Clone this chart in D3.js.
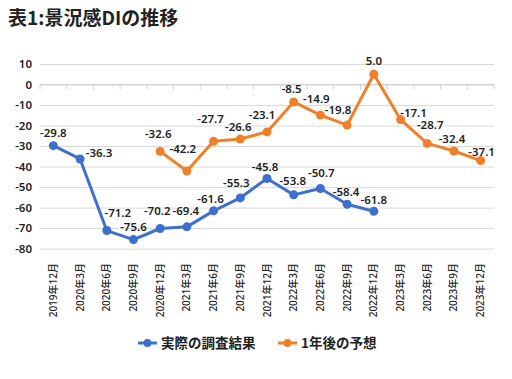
<!DOCTYPE html>
<html><head><meta charset="utf-8">
<script src="https://cdn.jsdelivr.net/npm/d3@7"></script>
<style>
html,body{margin:0;padding:0;background:#fff;}
svg{display:block;font-family:"Noto Sans","Noto Sans CJK JP",sans-serif;}
</style></head>
<body><svg id="c" width="512" height="379"></svg>
<script>
const categories = ["2019年12月","2020年3月","2020年6月","2020年9月","2020年12月","2021年3月","2021年6月","2021年9月","2021年12月","2022年3月","2022年6月","2022年9月","2022年12月","2023年3月","2023年6月","2023年9月","2023年12月"];
const actual   = [-29.8,-36.3,-71.2,-75.6,-70.2,-69.4,-61.6,-55.3,-45.8,-53.8,-50.7,-58.4,-61.8,null,null,null,null];
const forecast = [null,null,null,null,-32.6,-42.2,-27.7,-26.6,-23.1,-8.5,-14.9,-19.8,5.0,-17.1,-28.7,-32.4,-37.1];
const yTicks = [10,0,-10,-20,-30,-40,-50,-60,-70,-80];
const seriesNames = ["実際の調査結果","1年後の予想"];
const title = "表1:景況感DIの推移";

// label nudges (pixels) per point
const actualLabelDx = [0,19,11,0,-3,-1,-3,-4,-2,-1,1,-1,0,0,0,0,0];
const actualLabelDy = [-13,-6,-18,-13,-18,-16,-12,-15,-11,-14,-16,-12,-11,0,0,0,0];
const forecastLabelDx = [0,0,0,0,-2,-4,-3,-2,-5,-2,-4,-9,0,13,3,-2,1];
const forecastLabelDy = [0,0,0,0,-17,-22,-22,-12,-17,-13,-16,-15,-13,-7,-18,-12,-9];

const colors = ["#3f6fcc","#f07f2a"];
const svg = d3.select("#c");
const loc = d3.formatLocale({decimal:".",thousands:",",grouping:[3],currency:["",""],minus:"-"});
const fInt = loc.format("d"), fDec = loc.format(".1f");

const x = d3.scaleBand().domain(categories).range([40,494]);
const y = d3.scaleLinear().domain([-80,10]).range([248.6,64]);
const cx = c => x(c) + x.bandwidth()/2;

// title
svg.append("text").attr("x",8).attr("y",25)
  .attr("font-family","'Noto Sans CJK JP',sans-serif").attr("font-weight",700)
  .attr("font-size",19).attr("fill","#222").text(title);

// y axis with gridlines
const ya = svg.append("g").attr("transform","translate(40,0)")
  .call(d3.axisLeft(y).tickValues(yTicks).tickSize(-454).tickPadding(8).tickFormat(fInt));
ya.select(".domain").remove();
ya.selectAll(".tick line").attr("stroke","#d9d9d9").attr("stroke-width",1);
ya.selectAll(".tick text").attr("font-size",11.5).attr("font-weight",600).attr("fill","#222")
  .attr("font-family","'Noto Sans',sans-serif");

// x axis line at 0 with ticks on band boundaries
const xg = svg.append("g");
const bounds = categories.map(c => x(c)).concat([x.range()[1]]);
xg.selectAll("line.t").data(bounds).join("line")
  .attr("x1",d=>d).attr("x2",d=>d).attr("y1",y(0)).attr("y2",y(0)+5)
  .attr("stroke","#d0d0d0").attr("stroke-width",1);
xg.append("line").attr("x1",40).attr("x2",494).attr("y1",y(0)).attr("y2",y(0))
  .attr("stroke","#d0d0d0").attr("stroke-width",1);

// x labels at bottom, rotated
svg.append("g").selectAll("text").data(categories).join("text")
  .attr("transform",d=>`translate(${cx(d)+3.5},263) rotate(-90)`)
  .attr("text-anchor","end").attr("font-size",10).attr("font-weight",500)
  .attr("fill","#222").attr("font-family","'Noto Sans','Noto Sans CJK JP',sans-serif")
  .text(d=>d);

// series
const series = [
  {vals:actual, dx:actualLabelDx, dy:actualLabelDy, color:colors[0]},
  {vals:forecast, dx:forecastLabelDx, dy:forecastLabelDy, color:colors[1]}
];
const line = d3.line().defined(d=>d.v!=null).x(d=>cx(d.c)).y(d=>y(d.v));
series.forEach(s=>{
  const pts = categories.map((c,i)=>({c, v:s.vals[i], i}));
  svg.append("path").datum(pts).attr("d",line).attr("fill","none")
    .attr("stroke",s.color).attr("stroke-width",3).attr("stroke-linejoin","round");
  const valid = pts.filter(d=>d.v!=null);
  svg.append("g").selectAll("circle").data(valid).join("circle")
    .attr("cx",d=>cx(d.c)).attr("cy",d=>y(d.v)).attr("r",4.5).attr("fill",s.color);
  svg.append("g").selectAll("text").data(valid).join("text")
    .attr("x",d=>cx(d.c)+s.dx[d.i]).attr("y",d=>y(d.v)+s.dy[d.i])
    .attr("dy","0.35em").attr("text-anchor","middle")
    .attr("font-size",11.5).attr("font-weight",600).attr("fill","#222")
    .text(d=>fDec(d.v));
});

// legend
const lg = svg.append("g");
const legendX = [138,278];
seriesNames.forEach((n,i)=>{
  const g = lg.append("g").attr("transform",`translate(${legendX[i]},343)`);
  g.append("line").attr("x1",0).attr("x2",19).attr("stroke",colors[i]).attr("stroke-width",3);
  g.append("circle").attr("cx",9.5).attr("r",4).attr("fill",colors[i]);
  g.append("text").attr("x",23).attr("dy","0.35em").attr("font-size",13.5)
    .attr("font-weight",700).attr("fill","#222")
    .attr("font-family","'Noto Sans CJK JP',sans-serif").text(n);
});
</script></body></html>
